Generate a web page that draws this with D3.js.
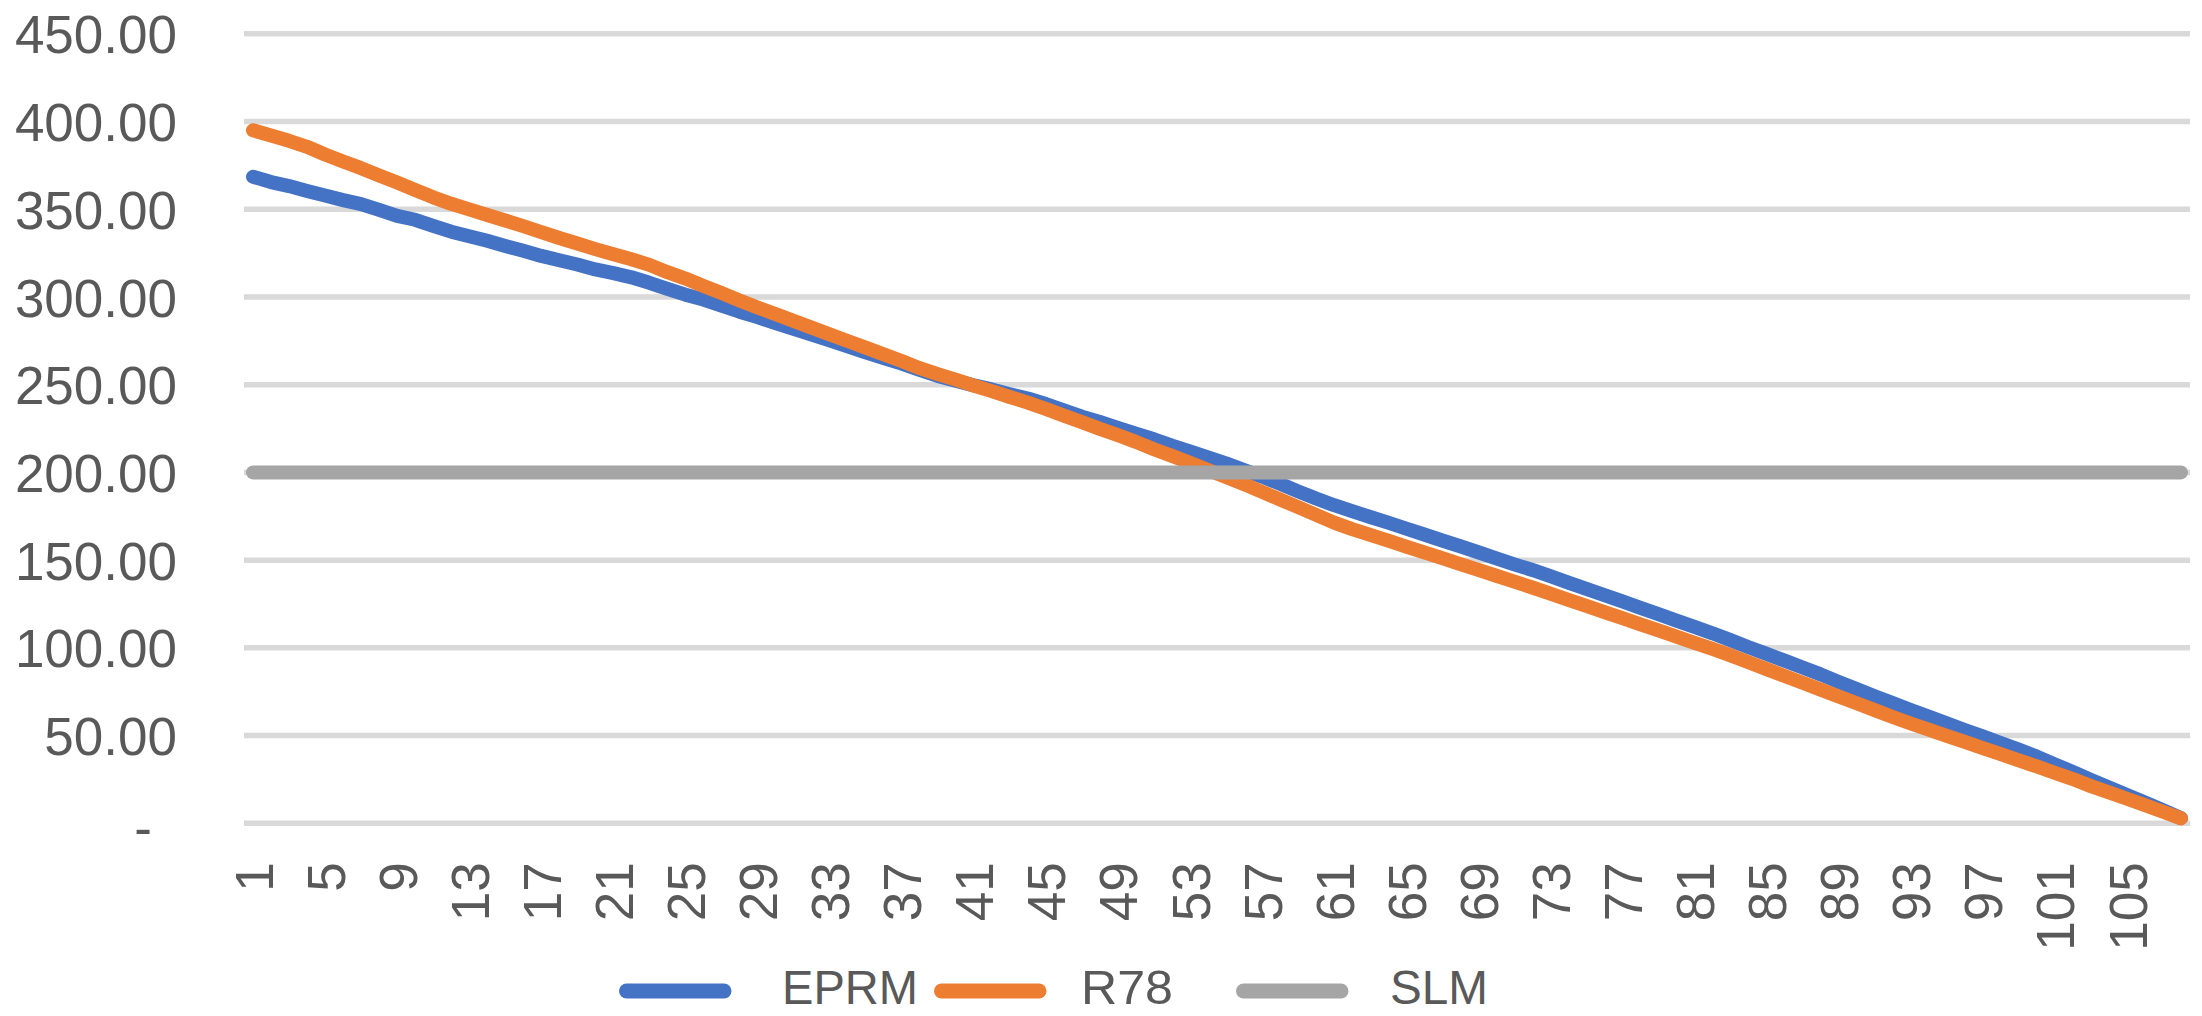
<!DOCTYPE html>
<html>
<head>
<meta charset="utf-8">
<script src="https://cdn.jsdelivr.net/npm/d3@7"></script>
<style>
  html, body { margin: 0; padding: 0; background: #ffffff; }
  svg { display: block; }
  text { font-family: "Liberation Sans", Arial, sans-serif; fill: #595959; }
</style>
</head>
<body>
<svg id="chart" width="2202" height="1016"></svg>
<script>
// Categories (1..108)
const categories = [
  1,2,3,4,5,6,7,8,9,10,11,12,13,14,15,16,17,18,19,20,
  21,22,23,24,25,26,27,28,29,30,31,32,33,34,35,36,37,38,39,40,
  41,42,43,44,45,46,47,48,49,50,51,52,53,54,55,56,57,58,59,60,
  61,62,63,64,65,66,67,68,69,70,71,72,73,74,75,76,77,78,79,80,
  81,82,83,84,85,86,87,88,89,90,91,92,93,94,95,96,97,98,99,100,
  101,102,103,104,105,106,107,108
];

const eprm = [
  368.5,365.5,363.2,360.4,357.8,355.2,352.9,349.6,346.2,344.0,
  340.5,337.2,334.6,332.0,329.1,326.3,323.4,320.9,318.5,315.7,
  313.6,311.2,308.1,304.6,301.3,298.5,295.0,291.6,288.5,285.1,
  281.8,278.6,275.2,271.9,268.4,265.2,262.0,258.4,255.0,252.2,
  249.6,247.3,244.6,242.1,239.0,235.4,231.8,228.7,225.4,222.1,
  218.9,215.3,212.0,208.6,205.2,201.4,197.6,193.5,189.2,185.1,
  181.3,177.9,174.6,171.4,168.0,164.6,161.2,157.9,154.5,151.0,
  147.6,144.4,140.9,137.2,133.6,130.1,126.5,122.8,119.2,115.5,
  111.9,108.3,104.4,100.4,96.6,92.7,88.8,84.9,80.6,76.5,
  72.4,68.5,64.6,60.8,57.0,53.2,49.6,45.8,42.0,38.0,
  33.6,29.3,24.8,20.4,16.2,11.9,7.5,3.0
];

const r78 = [
  395.0,392.0,389.0,385.6,381.2,377.2,373.4,369.3,365.2,361.0,
  356.8,353.1,349.9,346.7,343.6,340.4,337.0,333.6,330.5,327.3,
  324.3,321.5,318.3,314.1,310.5,306.3,302.2,298.0,294.0,290.2,
  286.4,282.5,278.7,274.9,271.1,267.3,263.5,259.4,256.0,252.9,
  249.5,246.3,243.0,239.8,236.2,232.4,228.7,224.8,221.2,217.4,
  213.2,209.4,205.5,201.4,197.4,193.3,188.9,184.6,180.2,175.8,
  171.4,167.7,164.4,161.1,157.7,154.4,151.1,147.7,144.4,141.1,
  137.7,134.4,130.9,127.4,123.9,120.4,116.9,113.4,109.9,106.4,
  102.9,99.4,95.7,91.8,87.9,84.0,80.1,76.2,72.3,68.4,
  64.5,60.6,56.9,53.4,49.9,46.4,42.9,39.4,35.9,32.4,
  28.8,25.2,21.2,17.6,14.0,10.4,6.6,2.8
];

const slm = [
  200,200,200,200,200,200,200,200,200,200,200,200,200,200,200,200,200,200,
  200,200,200,200,200,200,200,200,200,200,200,200,200,200,200,200,200,200,
  200,200,200,200,200,200,200,200,200,200,200,200,200,200,200,200,200,200,
  200,200,200,200,200,200,200,200,200,200,200,200,200,200,200,200,200,200,
  200,200,200,200,200,200,200,200,200,200,200,200,200,200,200,200,200,200,
  200,200,200,200,200,200,200,200,200,200,200,200,200,200,200,200,200,200
];

const seriesNames = ["EPRM", "R78", "SLM"];
const yTickValues = [0, 50, 100, 150, 200, 250, 300, 350, 400, 450];
const xTickValues = [1,5,9,13,17,21,25,29,33,37,41,45,49,53,57,61,65,69,73,77,81,85,89,93,97,101,105];

// ---- layout ----
const colors = { EPRM: "#4472C4", R78: "#ED7D31", SLM: "#A5A5A5" };
const plot = { left: 244, right: 2190, top: 33.8, bottom: 823.3 };
const fontSize = 53;

const svg = d3.select("#chart");
svg.append("rect").attr("width", 2202).attr("height", 1016).attr("fill", "#ffffff");

const x = d3.scalePoint().domain(categories).range([plot.left, plot.right]).padding(0.5);
const y = d3.scaleLinear().domain([0, 450]).range([plot.bottom, plot.top]);

// gridlines
svg.append("g")
  .selectAll("line")
  .data(yTickValues)
  .join("line")
  .attr("x1", plot.left).attr("x2", plot.right)
  .attr("y1", d => y(d)).attr("y2", d => y(d))
  .attr("stroke", "#D9D9D9").attr("stroke-width", 5.5);

// value axis labels (accounting style: zero shown as a dash)
const yAxis = svg.append("g")
  .attr("transform", `translate(${plot.left},0)`)
  .call(d3.axisLeft(y).tickValues(yTickValues).tickSize(0).tickPadding(67)
    .tickFormat(d => d === 0 ? "-" : d3.format(".2f")(d)));
yAxis.select(".domain").remove();
yAxis.selectAll("text")
  .attr("font-size", fontSize)
  .attr("font-family", "Liberation Sans, Arial, sans-serif")
  .attr("fill", "#595959")
  .attr("dy", "0.36em");
yAxis.selectAll(".tick").filter(d => d === 0).select("text")
  .attr("x", -92).attr("dy", "0.42em");

// category axis labels, rotated
const xAxis = svg.append("g")
  .attr("transform", `translate(0,${plot.bottom})`)
  .call(d3.axisBottom(x).tickValues(xTickValues).tickSize(0));
xAxis.select(".domain").remove();
xAxis.selectAll("text")
  .attr("font-size", fontSize)
  .attr("font-family", "Liberation Sans, Arial, sans-serif")
  .attr("fill", "#595959")
  .attr("text-anchor", "end")
  .attr("transform", "rotate(-90)")
  .attr("x", -39)
  .attr("y", 0)
  .attr("dy", "0.36em");

// series lines
const seriesData = [
  { name: "EPRM", values: eprm },
  { name: "R78", values: r78 },
  { name: "SLM", values: slm }
];
const line = d3.line()
  .x((d, i) => x(categories[i]))
  .y(d => y(d));

svg.append("g")
  .selectAll("path")
  .data(seriesData)
  .join("path")
  .attr("d", s => line(s.values))
  .attr("fill", "none")
  .attr("stroke", s => colors[s.name])
  .attr("stroke-width", 14)
  .attr("stroke-linejoin", "round")
  .attr("stroke-linecap", "round");

// legend
const legendY = 988;
const legendItems = [
  { name: "EPRM", lx: 619, tx: 782, tw: 136 },
  { name: "R78", lx: 934, tx: 1081, tw: 92 },
  { name: "SLM", lx: 1236, tx: 1390, tw: 98 }
];
const lg = svg.append("g");
legendItems.forEach(it => {
  lg.append("line")
    .attr("x1", it.lx + 7.5).attr("x2", it.lx + 105)
    .attr("y1", legendY + 3).attr("y2", legendY + 3)
    .attr("stroke", colors[it.name]).attr("stroke-width", 15)
    .attr("stroke-linecap", "round");
  lg.append("text")
    .attr("x", it.tx).attr("y", legendY).attr("dy", "0.34em")
    .attr("font-size", 48)
    .attr("textLength", it.tw)
    .attr("lengthAdjust", "spacingAndGlyphs")
    .attr("fill", "#595959")
    .text(it.name);
});
</script>
</body>
</html>
